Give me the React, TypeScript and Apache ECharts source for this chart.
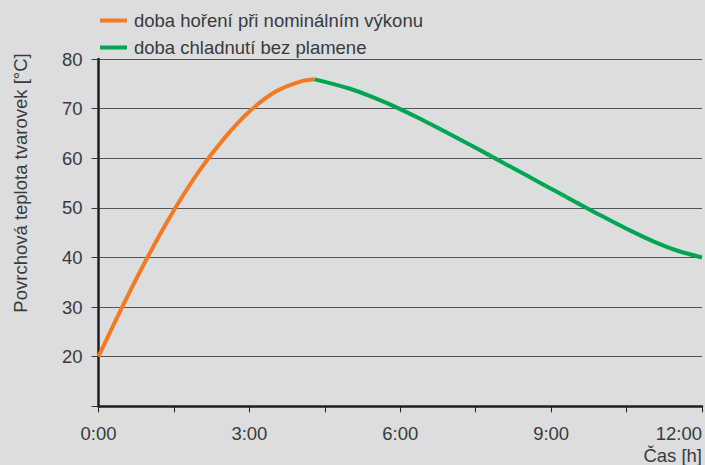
import React, { useEffect, useRef } from "react";
import * as echarts from "echarts";

const burnSeriesName = "doba hoření při nominálním výkonu";
const coolSeriesName = "doba chladnutí bez plamene";

// time in hours, temperature in °C
const burnTimes = [0, 0.5, 1.0, 1.5, 2.0, 2.5, 3.0, 3.5, 4.0, 4.3];
const burnTemps = [20, 30.6, 40.5, 49.5, 57.4, 64.0, 69.4, 73.3, 75.4, 75.9];

const coolTimes = [4.3, 5.0, 5.5, 6.0, 6.5, 7.0, 7.5, 8.0, 8.5, 9.0, 9.5, 10.0, 10.5, 11.0, 11.5, 12];
const coolTemps = [75.9, 74.0, 72.1, 69.9, 67.4, 64.8, 62.1, 59.35, 56.6, 53.85, 51.1, 48.4, 45.8, 43.4, 41.4, 40];

const xTickLabels = ["0:00", "3:00", "6:00", "9:00", "12:00"];
const yTickValues = [20, 30, 40, 50, 60, 70, 80];

const FONT = "'Liberation Sans', Arial, Helvetica, sans-serif";
const TEXT_COLOR = "#3a3a3a";
const FS = 18.5;

export default function App() {
  const ref = useRef<HTMLDivElement>(null);

  useEffect(() => {
    if (!ref.current) return;
    const chart = echarts.init(ref.current, null, { renderer: "svg" });
    const burnData = burnTimes.map((t, i) => [t, burnTemps[i]]);
    const coolData = coolTimes.map((t, i) => [t, coolTemps[i]]);

    chart.setOption({
      animation: false,
      backgroundColor: "#dcdddf",
      textStyle: { fontFamily: FONT },
      grid: {
        left: 98.5,
        right: 3,
        top: 59,
        bottom: 58.7,
        containLabel: false,
        outerBoundsMode: "none",
      },
      legend: {
        orient: "vertical",
        left: 100,
        top: 11,
        padding: 0,
        itemWidth: 27,
        itemHeight: 4,
        itemGap: 8,
        icon: "rect",
        textStyle: {
          fontSize: FS,
          color: TEXT_COLOR,
          fontFamily: FONT,
          lineHeight: 16,
          padding: [0, 0, 0, 2],
        },
        data: [burnSeriesName, coolSeriesName],
      },
      xAxis: {
        type: "value",
        min: 0,
        max: 12,
        interval: 1.5,
        axisLine: { show: true, onZero: false, lineStyle: { color: "#1e1e1e", width: 2.5 } },
        axisTick: { show: true, length: 6, lineStyle: { color: "#1e1e1e", width: 1 } },
        splitLine: { show: false },
        axisLabel: {
          margin: 17.5,
          fontSize: FS,
          color: TEXT_COLOR,
          fontFamily: FONT,
          alignMaxLabel: "right",
          formatter: (v: number) => {
            if (Math.abs(v % 3) < 1e-6) {
              const idx = Math.round(v / 3);
              return xTickLabels[idx] ?? "";
            }
            return "";
          },
        },
      },
      yAxis: {
        type: "value",
        min: 10,
        max: 80,
        interval: 10,
        axisLine: { show: true, lineStyle: { color: "#1e1e1e", width: 2.5 } },
        axisTick: { show: true, length: 7, lineStyle: { color: "#333", width: 1 } },
        splitLine: { show: true, lineStyle: { color: "#555", width: 1 } },
        axisLabel: {
          margin: 16,
          fontSize: FS,
          color: TEXT_COLOR,
          fontFamily: FONT,
          formatter: (v: number) => (yTickValues.includes(v) ? String(v) : ""),
        },
      },
      series: [
        {
          name: burnSeriesName,
          type: "line",
          data: burnData,
          smooth: 0.4,
          showSymbol: false,
          symbol: "none",
          color: "#f47a22",
          lineStyle: { width: 4, color: "#f47a22" },
          z: 3,
        },
        {
          name: coolSeriesName,
          type: "line",
          data: coolData,
          smooth: 0.4,
          showSymbol: false,
          symbol: "none",
          color: "#00a651",
          lineStyle: { width: 4, color: "#00a651" },
          z: 4,
        },
      ],
      graphic: [
        {
          type: "text",
          x: 20,
          y: 183,
          rotation: Math.PI / 2,
          style: {
            text: "Povrchová teplota tvarovek [°C]",
            fontSize: FS,
            fontFamily: FONT,
            fill: TEXT_COLOR,
            align: "center",
            verticalAlign: "middle",
          },
        },
        {
          type: "text",
          x: 702,
          y: 455,
          style: {
            text: "Čas [h]",
            fontSize: FS,
            fontFamily: FONT,
            fill: TEXT_COLOR,
            align: "right",
            verticalAlign: "middle",
          },
        },
      ],
    });

    return () => chart.dispose();
  }, []);

  return (
    <div
      ref={ref}
      style={{ position: "fixed", left: 0, top: 0, width: 705, height: 465 }}
    />
  );
}
